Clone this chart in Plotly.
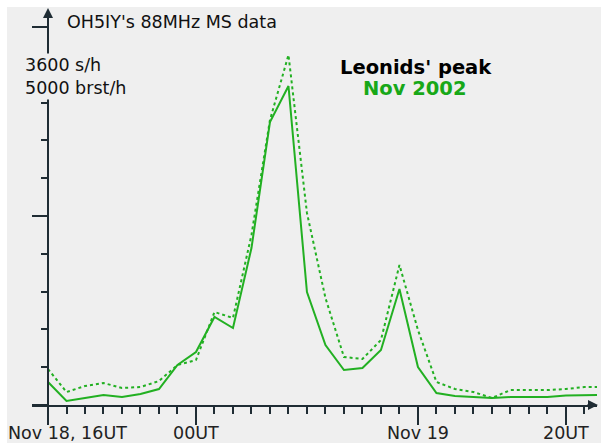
import plotly.graph_objects as go

# ---- data (hours after Nov 18, 16 UT) ----
hours = list(range(31))
sh_values = [219, 38, 67, 95, 76, 105, 152, 381, 505, 838, 733, 1495, 2695, 3038, 1076,
             571, 333, 352, 524, 1105, 362, 114, 86, 76, 67, 76, 76, 76, 90, 95, 95]
brst_values = [476, 172, 251, 291, 225, 238, 317, 529, 595, 1230, 1151, 2249, 3770, 4630, 2540,
               1415, 635, 608, 860, 1852, 992, 304, 212, 172, 93, 198, 198, 198, 212, 238, 238]
major_tick_hours = [0, 8, 20, 28]
major_tick_labels = ["Nov 18, 16UT", "00UT", "Nov 19", "20UT"]
y_scale_labels = ["3600 s/h", "5000 brst/h"]

W, H = 601, 443
L, R, T, B = 32, 4, 10, 38
PW, PH = W - L - R, H - T - B
X0, X1 = -0.865, 29.68
SH_MAX = 3600 * (405 - 10) / 378.0
BR_MAX = 5000 * (405 - 10) / 378.0


def px(x):
    return (x - L) / PW


def py(y):
    return (H - B - y) / PH


green = "#22b022"
axis_col = "#1f2c34"
bg = "#efefef"
font_fam = "DejaVu Sans"

fig = go.Figure()
fig.add_trace(go.Scatter(x=hours, y=sh_values, mode="lines",
                         line=dict(color=green, width=2), yaxis="y"))
fig.add_trace(go.Scatter(x=hours, y=brst_values, mode="lines",
                         line=dict(color=green, width=2, dash="3px,3px"), yaxis="y2"))

fig.update_layout(
    width=W, height=H, margin=dict(l=L, r=R, t=T, b=B),
    paper_bgcolor=bg, plot_bgcolor=bg, showlegend=False,
    xaxis=dict(range=[X0, X1], showgrid=False, zeroline=False, showline=True,
               linecolor=axis_col, linewidth=2, ticks="outside", ticklen=18, tickwidth=2,
               tickcolor=axis_col, tickmode="array", tickvals=major_tick_hours,
               showticklabels=False,
               minor=dict(tickmode="linear", tick0=0, dtick=1, ticks="outside",
                          ticklen=7, tickwidth=2, tickcolor=axis_col)),
    yaxis=dict(range=[0, SH_MAX], anchor="free", position=px(48), showgrid=False,
               zeroline=False, showline=True, linecolor=axis_col, linewidth=2,
               ticks="outside", ticklen=15, tickwidth=2, tickcolor=axis_col,
               tickmode="linear", tick0=0, dtick=1800, showticklabels=False,
               minor=dict(tickmode="linear", tick0=0, dtick=360, ticks="outside",
                          ticklen=6, tickwidth=2, tickcolor=axis_col)),
    yaxis2=dict(range=[0, BR_MAX], overlaying="y", visible=False),
)

ann = []
ann.append(dict(x=px(65), y=py(22), xref="paper", yref="paper", xanchor="left",
                yanchor="middle", showarrow=False, text="OH5IY's 88MHz MS data",
                font=dict(family=font_fam, size=17.5, color="#111")))
ann.append(dict(x=px(23), y=py(76), xref="paper", yref="paper", xanchor="left",
                yanchor="middle", showarrow=False, align="left",
                text="<br>".join(y_scale_labels), bgcolor=bg,
                font=dict(family=font_fam, size=17.5, color="#111")))
ann.append(dict(x=px(416), y=py(67), xref="paper", yref="paper", xanchor="center",
                yanchor="middle", showarrow=False, text="<b>Leonids' peak</b>",
                font=dict(family=font_fam, size=19.5, color="#000")))
ann.append(dict(x=px(415), y=py(88), xref="paper", yref="paper", xanchor="center",
                yanchor="middle", showarrow=False, text="<b>Nov 2002</b>",
                font=dict(family=font_fam, size=19.5, color="#18a818")))
for i, (hv, lab) in enumerate(zip(major_tick_hours, major_tick_labels)):
    ann.append(dict(x=hv, y=py(433), xref="x", yref="paper",
                    xanchor="left" if i == 0 else "center", xshift=-42 if i == 0 else 0,
                    yanchor="middle", showarrow=False, text=lab,
                    font=dict(family=font_fam, size=17.5, color="#222")))
# axis arrows
ann.append(dict(x=px(48), y=py(8), xref="paper", yref="paper", ax=0, ay=12,
                showarrow=True, arrowhead=2, arrowsize=1, arrowwidth=2,
                arrowcolor=axis_col, text=""))
ann.append(dict(x=px(598), y=py(405), xref="paper", yref="paper", ax=-12, ay=0,
                showarrow=True, arrowhead=2, arrowsize=1, arrowwidth=2,
                arrowcolor=axis_col, text=""))
fig.update_layout(annotations=ann)

fig.add_shape(type="rect", xref="paper", yref="paper", x0=px(0), x1=px(W), y0=py(0), y1=py(7),
              fillcolor="white", line_width=0, layer="above")
fig.add_shape(type="rect", xref="paper", yref="paper", x0=px(0), x1=px(7), y0=py(0), y1=py(H),
              fillcolor="white", line_width=0, layer="above")

fig.write_html("out.html", config={"displayModeBar": False},
               post_script="document.body.style.margin='0px';document.body.style.overflow='hidden';")
